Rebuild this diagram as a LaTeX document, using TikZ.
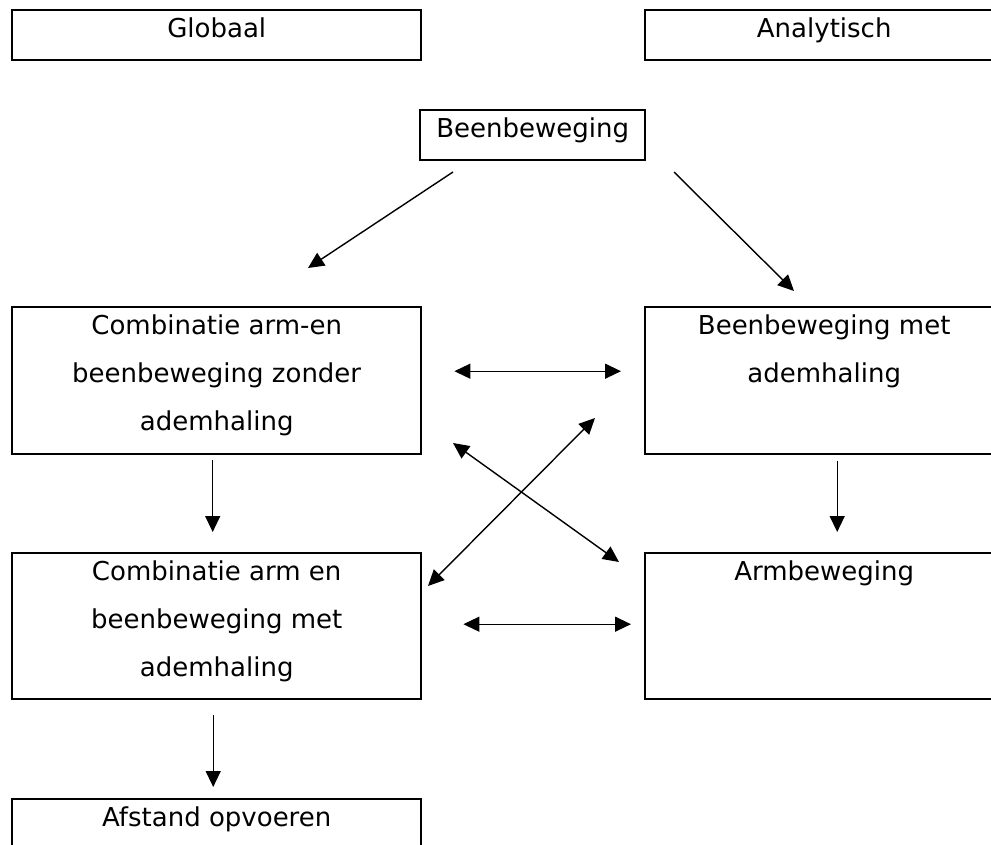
\documentclass[tikz,border=0pt]{standalone}
\usepackage{fontspec}
\setmainfont{DejaVu Sans}
\usetikzlibrary{arrows.meta}
\tikzset{
  box/.style={draw, line width=2.4pt, inner sep=0pt, anchor=north west},
  arr/.style={line width=1.4pt, -{Triangle[length=16pt,width=15pt]}},
  dbl/.style={line width=1.4pt, {Triangle[length=16pt,width=15pt]}-{Triangle[length=16pt,width=15pt]}}
}
% text at the top of a box of given width and height
\newcommand{\boxtext}[3]{\parbox[t][#2pt][t]{#1pt}{\centering\rule{0pt}{27pt}#3}}
\begin{document}
\begin{tikzpicture}[x=1pt,y=-1pt,font=\fontsize{26pt}{48pt}\selectfont]
  \useasboundingbox (0,0) rectangle (991,845);
  % headings
  \node[box] (glob) at (11,9) {\boxtext{409}{50}{Globaal}};
  \node[box] (anal) at (644,9) {\boxtext{358}{50}{Analytisch}};
  % start
  \node[box] (been) at (419,109) {\boxtext{225}{50}{Beenbeweging}};
  % left column
  \node[box] (comb1) at (11,306) {\boxtext{409}{147}{Combinatie arm-en\\beenbeweging zonder\\ademhaling}};
  \node[box] (comb2) at (11,552) {\boxtext{409}{146}{Combinatie arm en\\beenbeweging met\\ademhaling}};
  \node[box] (afst) at (11,798) {\boxtext{409}{70}{Afstand opvoeren}};
  % right column
  \node[box] (adem) at (644,306) {\boxtext{358}{147}{Beenbeweging met\\ademhaling}};
  \node[box] (arm) at (644,552) {\boxtext{358}{146}{Armbeweging}};
  % free arrow ends
  \coordinate (d1s) at (453,172);
  \coordinate (d1e) at (308,268);
  \coordinate (d2s) at (674,172);
  \coordinate (d2e) at (794,291);
  \coordinate (x1a) at (453,443);
  \coordinate (x1b) at (619,562);
  \coordinate (x2a) at (595,418);
  \coordinate (x2b) at (428,586);
  % arrows from the start
  \draw[arr] (d1s) -- (d1e);
  \draw[arr] (d2s) -- (d2e);
  % down arrows
  \draw[arr, shorten <=5pt, shorten >=20pt] ([xshift=-4pt]comb1.south) -- ([xshift=-4pt]comb2.north);
  \draw[arr, shorten <=6pt, shorten >=20pt] ([xshift=13pt]adem.south) -- ([xshift=13pt]arm.north);
  \draw[arr, shorten <=15pt, shorten >=11pt] ([xshift=-3.5pt]comb2.south) -- ([xshift=-3.5pt]afst.north);
  % both ways
  \draw[dbl, shorten <=32pt, shorten >=23pt] ([yshift=9.5pt]comb1.east) -- ([yshift=9.5pt]adem.west);
  \draw[dbl, shorten <=41pt, shorten >=13pt] ([yshift=2pt]comb2.east) -- ([yshift=2pt]arm.west);
  \draw[dbl] (x1a) -- (x1b);
  \draw[dbl] (x2a) -- (x2b);
\end{tikzpicture}
\end{document}
